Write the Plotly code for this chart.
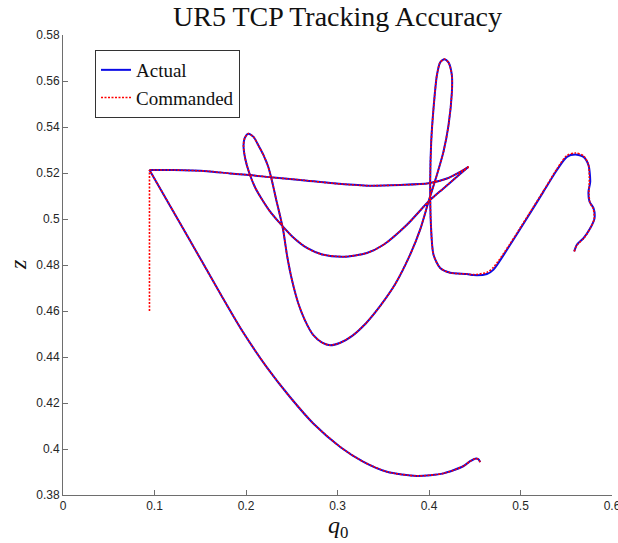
import plotly.graph_objects as go

# ---- trajectory data (q0, z) ----
# lower sweep: from the end of the lower arc back up the diagonal to the corner
sweep_q0 = [0.4560, 0.4538, 0.4505, 0.4450, 0.4374, 0.4158, 0.3868, 0.3540, 0.3284,
            0.3030, 0.2738, 0.2483, 0.2228, 0.1958, 0.1740, 0.1499, 0.1226, 0.0945]
sweep_z = [0.3943, 0.3956, 0.3958, 0.3947, 0.3925, 0.3894, 0.3883, 0.3901, 0.3944,
           0.4009, 0.4110, 0.4225, 0.4355, 0.4514, 0.4661, 0.4829, 0.5019, 0.5213]

# vertical approach stroke (commanded only)
approach_q0 = [0.0945, 0.0945, 0.0945]
approach_z = [0.5213, 0.4600, 0.5213]

# nearly horizontal stroke from the corner to the right-hand hook
top_q0 = [0.0945, 0.1208, 0.1573, 0.1827, 0.2046, 0.2301, 0.2592, 0.2956, 0.3321,
          0.3685, 0.3995, 0.4196, 0.4341, 0.4432]
top_z = [0.5213, 0.5213, 0.5208, 0.5198, 0.5191, 0.5180, 0.5170, 0.5155, 0.5145,
         0.5148, 0.5155, 0.5176, 0.5205, 0.5227]

# loops: upper bowl, small loop, lower bowl, tall loop, flat bottom
loops_q0 = [0.4432, 0.4305, 0.4158, 0.3995, 0.3759, 0.3503, 0.3321, 0.3066, 0.2833,
            0.2666, 0.2505, 0.2363, 0.2264, 0.2177, 0.2101, 0.2035, 0.1991, 0.1973,
            0.1986, 0.2024, 0.2082, 0.2133, 0.2191, 0.2243, 0.2286, 0.2330, 0.2374,
            0.2407, 0.2450, 0.2505, 0.2570, 0.2647, 0.2734, 0.2833, 0.2920, 0.3030,
            0.3161, 0.3314, 0.3467, 0.3631, 0.3795, 0.3904, 0.3995, 0.4086, 0.4158,
            0.4213, 0.4250, 0.4250, 0.4213, 0.4169, 0.4122, 0.4086, 0.4049, 0.4024,
            0.4013, 0.4021, 0.4049, 0.4122, 0.4232, 0.4414]
loops_z = [0.5227, 0.5184, 0.5133, 0.5076, 0.4975, 0.4888, 0.4852, 0.4836, 0.4846,
           0.4874, 0.4924, 0.4985, 0.5032, 0.5084, 0.5136, 0.5201, 0.5263, 0.5321,
           0.5352, 0.5371, 0.5357, 0.5322, 0.5278, 0.5227, 0.5162, 0.5084, 0.5011,
           0.4950, 0.4838, 0.4730, 0.4635, 0.4557, 0.4496, 0.4462, 0.4451, 0.4462,
           0.4492, 0.4548, 0.4622, 0.4717, 0.4846, 0.4955, 0.5076, 0.5191, 0.5292,
           0.5407, 0.5551, 0.5624, 0.5681, 0.5695, 0.5681, 0.5624, 0.5479, 0.5335,
           0.5162, 0.4975, 0.4845, 0.4787, 0.4766, 0.4761]

# right-hand tail, measured
tail_act_q0 = [0.4486, 0.4633, 0.4705, 0.4887, 0.5070, 0.5251, 0.5398, 0.5507, 0.5598,
               0.5689, 0.5743, 0.5762, 0.5743, 0.5754, 0.5798, 0.5809, 0.5762, 0.5689,
               0.5616, 0.5587]
tail_act_z = [0.4756, 0.4761, 0.4780, 0.4888, 0.5003, 0.5119, 0.5213, 0.5270, 0.5280,
              0.5270, 0.5234, 0.5162, 0.5119, 0.5076, 0.5047, 0.5003, 0.4960, 0.4917,
              0.4888, 0.4859]

# right-hand tail, commanded
tail_cmd_q0 = [0.4486, 0.4633, 0.4705, 0.4887, 0.5070, 0.5251, 0.5398, 0.5507, 0.5598,
               0.5689, 0.5743, 0.5752, 0.5748, 0.5760, 0.5795, 0.5805, 0.5760, 0.5689,
               0.5616, 0.5587]
tail_cmd_z = [0.4758, 0.4768, 0.4790, 0.4893, 0.5008, 0.5122, 0.5218, 0.5276, 0.5287,
              0.5275, 0.5236, 0.5162, 0.5110, 0.5070, 0.5045, 0.5000, 0.4958, 0.4915,
              0.4886, 0.4859]

x_ticks = [0, 0.1, 0.2, 0.3, 0.4, 0.5, 0.6]
x_tick_text = ["0", "0.1", "0.2", "0.3", "0.4", "0.5", "0.6"]
y_ticks = [0.38, 0.40, 0.42, 0.44, 0.46, 0.48, 0.50, 0.52, 0.54, 0.56, 0.58]
y_tick_text = ["0.38", "0.4", "0.42", "0.44", "0.46", "0.48", "0.5", "0.52", "0.54", "0.56", "0.58"]

# ---- assemble strokes (None separates strokes meeting at sharp corners) ----
act_x = sweep_q0 + [None] + top_q0 + [None] + loops_q0 + tail_act_q0
act_y = sweep_z + [None] + top_z + [None] + loops_z + tail_act_z
cmd_x = sweep_q0 + [None] + approach_q0 + [None] + top_q0 + [None] + loops_q0 + tail_cmd_q0
cmd_y = sweep_z + [None] + approach_z + [None] + top_z + [None] + loops_z + tail_cmd_z

SERIF = "Liberation Serif, Times New Roman, serif"
SANS = "Liberation Sans, Arial, Helvetica, sans-serif"
AXIS_COLOR = "#6e6e6e"

# plot-area size in pixels, used to place the axis labels
M_L, M_R, M_T, M_B = 63, 6, 35, 48
PLOT_W, PLOT_H = 618 - M_L - M_R, 543 - M_T - M_B

fig = go.Figure()
fig.add_trace(go.Scatter(
    x=act_x, y=act_y, mode="lines", name="Actual",
    line=dict(color="#0a0ae6", width=2, shape="spline", smoothing=0.7),
))
fig.add_trace(go.Scatter(
    x=cmd_x, y=cmd_y, mode="lines", name="Commanded",
    line=dict(color="#ff0000", width=1.6, dash="2px,1.5px", shape="spline", smoothing=0.7),
))

axis_common = dict(
    ticks="inside", ticklen=5, tickcolor=AXIS_COLOR,
    showline=True, linecolor=AXIS_COLOR, linewidth=1,
    showgrid=False, zeroline=False, automargin=False, ticklabeloverflow="allow",
    tickfont=dict(family=SANS, size=12, color="#262626"),
)

fig.update_layout(
    width=618, height=543,
    margin=dict(l=M_L, r=M_R, t=M_T, b=M_B),
    paper_bgcolor="white", plot_bgcolor="white",
    title=dict(text="UR5 TCP Tracking Accuracy", x=0.5, xref="paper",
               y=1 - 16 / 543, yref="container", yanchor="middle", xanchor="center",
               font=dict(family=SERIF, size=28, color="#111")),
    showlegend=True,
    legend=dict(x=(95 - M_L) / PLOT_W, y=(495 - 50) / PLOT_H, xanchor="left", yanchor="top",
                bgcolor="white", bordercolor="#333", borderwidth=1,
                font=dict(family=SERIF, size=19, color="#111"),
                itemwidth=30, tracegroupgap=0),
    xaxis=dict(range=[0, 0.6], tickvals=x_ticks, ticktext=x_tick_text, **axis_common),
    yaxis=dict(range=[0.38, 0.58], tickvals=y_ticks, ticktext=y_tick_text, **axis_common),
    annotations=[
        dict(text="<i>q</i><sub>0</sub>", x=0.5, xref="paper",
             y=-(527 - 495) / PLOT_H, yref="paper",
             showarrow=False, font=dict(family=SERIF, size=24, color="#111"),
             xanchor="center", yanchor="middle"),
        dict(text="<i>z</i>", x=-(M_L - 18) / PLOT_W, xref="paper", y=0.5, yref="paper",
             showarrow=False, textangle=-90, font=dict(family=SERIF, size=24, color="#111"),
             xanchor="center", yanchor="middle"),
    ],
)

fig.write_html("out.html")
